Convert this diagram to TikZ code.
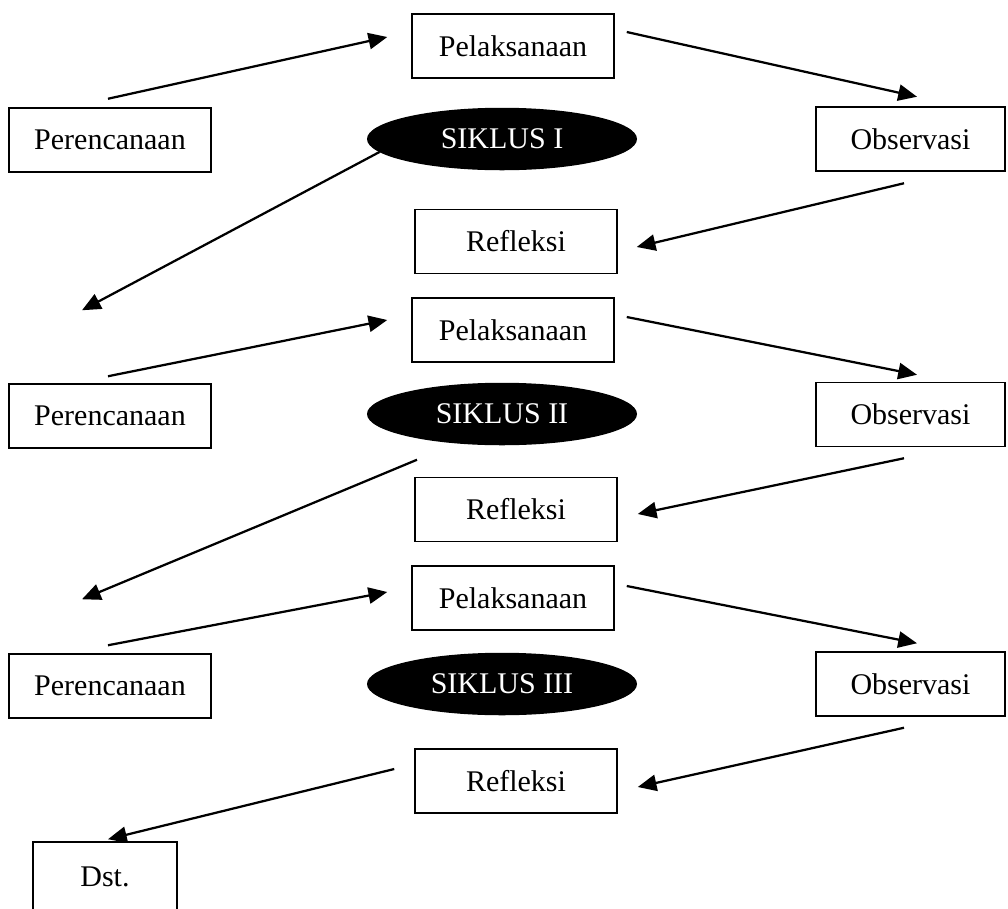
\documentclass[tikz,border=0pt]{standalone}
\usepackage{fontspec}
\setmainfont{Liberation Serif}
\usetikzlibrary{arrows.meta,calc,shapes.geometric}
\tikzset{
  stage/.style={draw, line width=0.6pt, minimum width=80.8pt, minimum height=25.6pt,
                inner sep=0pt, font=\fontsize{12}{14}\selectfont},
  obsbox/.style={stage, minimum width=75.6pt},
  siklus/.style={ellipse, fill=black, text=white, minimum width=108pt,
                 minimum height=25pt, inner sep=0pt, font=\fontsize{12}{14}\selectfont},
  arrow/.style={-{Triangle[length=7.5pt,width=6.5pt]}, line width=0.9pt}
}

\begin{document}
\begin{tikzpicture}[x=0.4pt, y=-0.4pt]
  \useasboundingbox (0,0) rectangle (1008,908);
  \clip (0,0) rectangle (1008,908);
  % siklus I
  \node[stage] (perc1) at (110,140) {Perencanaan};
  \node[stage] (pel1) at (513,46) {Pelaksanaan};
  \node[siklus] (ell1) at (502,139) {SIKLUS I};
  \node[obsbox] (obs1) at (910.5,139) {Observasi};
  \node[stage] (ref1) at (516,241.5) {Refleksi};
  % siklus II
  \node[stage] (perc2) at (110,416) {Perencanaan};
  \node[stage] (pel2) at (513,330) {Pelaksanaan};
  \node[siklus] (ell2) at (502,414) {SIKLUS II};
  \node[obsbox] (obs2) at (910.5,414.5) {Observasi};
  \node[stage] (ref2) at (516,509.5) {Refleksi};
  % siklus III
  \node[stage] (perc3) at (110,686) {Perencanaan};
  \node[stage] (pel3) at (513,598) {Pelaksanaan};
  \node[siklus] (ell3) at (502,684) {SIKLUS III};
  \node[obsbox] (obs3) at (910.5,684) {Observasi};
  \node[stage] (ref3) at (516,781) {Refleksi};
  \node[stage, minimum width=57.6pt, minimum height=28pt] (dst) at (105,877) {Dst.};
  % arrows
  \draw[arrow] ($(perc1.north)+(-2,-8.5)$) -- ($(pel1.west)+(-24,-9)$);
  \draw[arrow] ($(pel1.east)+(12,-14)$) -- ($(obs1.north)+(6.5,-9.5)$);
  \draw[arrow] ($(obs1.south)+(-6.5,11.5)$) -- ($(ref1.east)+(19,5.5)$);
  \draw[arrow] ($(ell1.west)+(13,13)$) -- ($(perc2.north)+(-28,-73)$);
  \draw[arrow] ($(perc2.north)+(-2,-7)$) -- ($(pel2.west)+(-24,-10)$);
  \draw[arrow] ($(pel2.east)+(12,-13)$) -- ($(obs2.north)+(6.5,-7)$);
  \draw[arrow] ($(obs2.south)+(-6.5,11)$) -- ($(ref2.east)+(20,4.5)$);
  \draw[arrow] ($(ell2.south)+(-85,14)$) -- ($(perc3.north)+(-28,-54)$);
  \draw[arrow] ($(perc3.north)+(-2,-8)$) -- ($(pel3.west)+(-24,-6)$);
  \draw[arrow] ($(pel3.east)+(12,-12)$) -- ($(obs3.north)+(6.5,-8)$);
  \draw[arrow] ($(obs3.south)+(-6.5,11)$) -- ($(ref3.east)+(20,6)$);
  \draw[arrow] ($(ref3.west)+(-20,-12)$) -- ($(dst.north)+(3,-2)$);
\end{tikzpicture}
\end{document}
